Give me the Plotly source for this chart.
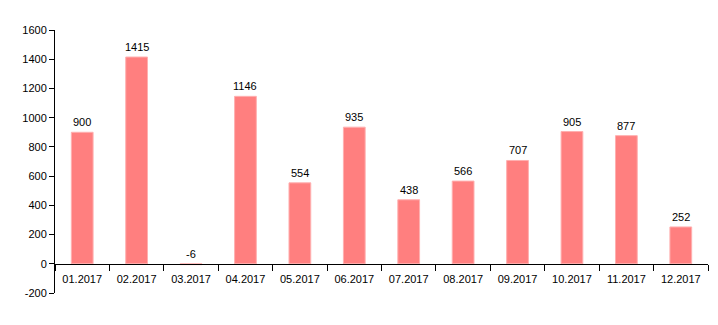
import plotly.graph_objects as go

months = ["01.2017", "02.2017", "03.2017", "04.2017", "05.2017", "06.2017",
          "07.2017", "08.2017", "09.2017", "10.2017", "11.2017", "12.2017"]
values = [900, 1415, -6, 1146, 554, 935, 438, 566, 707, 905, 877, 252]
y_ticks = [-200, 0, 200, 400, 600, 800, 1000, 1200, 1400, 1600]

y_min, y_max = -200, 1600
font_family = "Arial, Liberation Sans, sans-serif"

fig = go.Figure()
fig.add_trace(go.Bar(
    x=months, y=values, width=0.4,
    marker=dict(color="#FF7F7F", line=dict(color="#FFB0B0", width=1)),
    hoverinfo="x+y",
))

# value labels sit above each bar (or above the baseline for negatives);
# x is given as the category index so "01.2017" is not read as a number
for i, v in enumerate(values):
    fig.add_annotation(
        x=i, y=max(v, 0), text=str(v), showarrow=False,
        yanchor="bottom", yshift=2,
        font=dict(family=font_family, size=11, color="#000000"),
    )

zero_pos = (0 - y_min) / (y_max - y_min)

fig.update_layout(
    width=718, height=325,
    margin=dict(l=55, r=10, t=30, b=32),
    plot_bgcolor="white", paper_bgcolor="white",
    showlegend=False,
    font=dict(family=font_family, size=11, color="#000000"),
    xaxis=dict(
        type="category", anchor="free", position=zero_pos,
        showline=True, linecolor="#000000", linewidth=1,
        ticks="outside", tickson="boundaries", ticklen=6, tickcolor="#000000",
        ticklabelstandoff=5,
        showgrid=False, zeroline=False,
        range=[-0.5, len(months) - 0.5],
    ),
    yaxis=dict(
        range=[y_min, y_max],
        tickvals=y_ticks, ticktext=[str(t) for t in y_ticks],
        showline=True, linecolor="#000000", linewidth=1,
        ticks="outside", ticklen=5, tickcolor="#000000",
        showgrid=False, zeroline=False,
    ),
)

fig.write_html("out.html")
